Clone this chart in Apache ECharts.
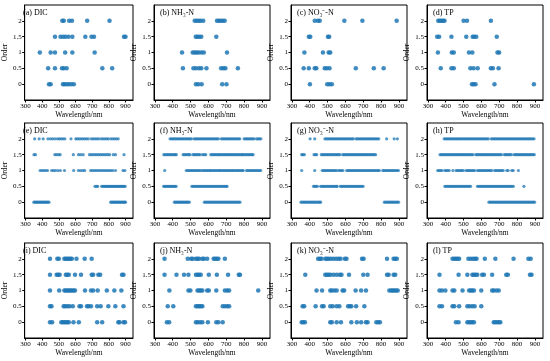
<!DOCTYPE html>
<html><head><meta charset="utf-8">
<script src="https://cdn.jsdelivr.net/npm/echarts@6/dist/echarts.min.js"></script>
<style>html,body{margin:0;padding:0;background:#fff}#c{width:550px;height:361px}</style>
</head><body><div id="c"></div>
<script>
const orders = [0, 0.5, 1, 1.5, 2];
const xTicks = [300, 400, 500, 600, 700, 800, 900];
const yTicks = [0, 0.5, 1, 1.5, 2];
const panelTitles = ['(a) DIC', '(b) NH₃-N', '(c) NO₃⁻-N', '(d) TP',
  '(e) DIC', '(f) NH₃-N', '(g) NO₃⁻-N', '(h) TP',
  '(i) DIC', '(j) NH₃-N', '(k) NO₃⁻-N', '(l) TP'];

// wavelengths (nm) selected at order 0, 0.5, 1, 1.5, 2
const dataA = [
  [441, 451, 525, 534, 547, 560, 575, 590],
  [436, 477, 519, 530, 547, 761, 820],
  [386, 451, 477, 538, 581, 715],
  [477, 510, 525, 540, 558, 581, 659, 696, 711, 891, 900],
  [521, 530, 562, 579, 670, 804]
];
const dataB = [
  [530, 543, 562, 677, 701],
  [457, 516, 530, 547, 560, 589, 671, 684, 695, 765],
  [452, 512, 523, 534, 545, 560, 574, 704],
  [529, 538, 549, 560, 644],
  [523, 534, 545, 556, 571, 648, 658, 669, 680, 691]
];
const dataC = [
  [401, 498, 511, 524],
  [366, 395, 428, 437, 484, 496, 511, 658, 759, 814],
  [370, 474, 506, 515],
  [395, 403, 502, 509],
  [428, 446, 456, 594, 695, 887]
];
const dataD = [
  [547, 556, 567, 673, 894],
  [372, 432, 445, 538, 556, 579, 653, 664, 696],
  [356, 434, 445, 530, 549, 690, 699],
  [352, 363, 432, 515, 551, 560, 571, 686],
  [358, 367, 376, 385, 393, 500, 519, 653]
];
const dataE = [
  [350, 357, 364, 371, 378, 385, 392, 399, 406, 413, 420, 427, 434, 441, 811, 818, 825, 832, 839, 846, 853, 860, 867, 874, 881, 888, 895, 900],
  [717, 726, 733, 757, 765, 772, 779, 786, 793, 800, 807, 814, 821, 828, 835, 842, 849, 856, 863, 870, 877, 884, 891, 898],
  [388, 399, 410, 421, 432, 457, 468, 479, 494, 509, 534, 589, 618, 631, 644, 655, 691, 702, 713, 724, 735, 746, 757, 768, 779, 790, 801, 812, 823, 840, 885, 896],
  [351, 360, 476, 487, 498, 508, 587, 618, 631, 646, 684, 695, 706, 717, 728, 739, 750, 761, 772, 783, 794, 805, 827, 840, 891],
  [355, 382, 406, 435, 450, 463, 477, 492, 503, 514, 525, 536, 573, 602, 611, 622, 633, 644, 655, 666, 677, 695, 706, 717, 728, 739, 754, 765, 776, 787, 797, 812, 823, 834, 845, 856]
];
const dataF = [
  [409, 416, 423, 430, 437, 444, 451, 458, 465, 472, 479, 486, 493, 577, 585, 593, 601, 609, 617, 625, 633, 641, 649, 657, 665, 673, 681, 689, 697, 705, 713, 721, 729, 737, 745, 753, 761, 769, 777],
  [349, 356, 363, 370, 377, 384, 391, 398, 405, 412, 419, 507, 515, 523, 531, 539, 547, 555, 563, 571, 579, 587, 595, 603, 611, 619, 627, 635, 643, 651, 659, 667, 675, 683, 691, 699, 704],
  [355, 476, 484, 492, 500, 508, 516, 524, 532, 540, 548, 556, 567, 575, 583, 591, 599, 607, 613, 622, 630, 638, 646, 654, 662, 668, 677, 685, 693, 701, 709, 717, 725, 733, 740, 749, 757, 765, 773, 781, 789, 795, 813, 821, 829, 837, 845, 853, 861, 869, 877, 885, 893],
  [350, 358, 366, 374, 382, 390, 398, 406, 414, 420, 458, 466, 474, 482, 490, 496, 513, 521, 529, 537, 545, 553, 567, 577, 585, 613, 621, 629, 637, 645, 653, 661, 668, 677, 685, 693, 701, 709, 717, 725, 733, 741, 749, 757, 765, 773, 781, 789, 795, 804, 812, 820, 828, 836, 844, 850],
  [385, 393, 401, 409, 417, 425, 433, 441, 449, 457, 465, 473, 481, 489, 497, 505, 520, 528, 536, 544, 552, 560, 568, 576, 584, 592, 600, 608, 616, 624, 632, 640, 648, 656, 672, 680, 688, 696, 704, 712, 720, 728, 736, 744, 752, 760, 768, 776, 800, 808, 816, 824, 832, 840, 848, 856, 870, 878, 886, 894]
];
const dataG = [
  [351, 359, 367, 375, 383, 391, 399, 407, 415, 423, 431, 439, 447, 455, 461, 818, 826, 834, 842, 850, 858, 866, 874, 882, 890, 898],
  [421, 428, 435, 443, 461, 469, 477, 485, 493, 501, 509, 517, 525, 533, 541, 549, 553, 571, 579, 587, 595, 603, 611, 619, 627, 635, 643, 651, 659, 667, 675, 683, 691, 699],
  [355, 428, 470, 478, 486, 494, 502, 510, 518, 526, 534, 542, 550, 562, 570, 578, 586, 607, 615, 623, 631, 639, 647, 655, 663, 671, 679, 687, 695, 703, 711, 719, 727, 735, 743, 751, 759, 767, 775, 783, 790, 809, 817, 825, 833, 841, 849, 857, 865, 873, 881, 889, 897],
  [355, 362, 370, 424, 432, 439, 465, 473, 481, 489, 497, 505, 513, 521, 529, 537, 545, 553, 561, 569, 585, 593, 601, 609, 617, 625, 633, 641, 649, 657, 665, 673, 681, 689, 697, 705, 713, 721, 729, 737, 745, 753, 761, 769],
  [402, 428, 485, 493, 501, 509, 517, 525, 533, 541, 549, 557, 565, 573, 581, 589, 597, 605, 613, 621, 629, 637, 644, 659, 667, 675, 683, 691, 699, 707, 715, 723, 731, 739, 747, 755, 763, 771, 779, 787, 831, 873, 891]
];
const dataH = [
  [642, 650, 658, 666, 674, 682, 690, 698, 706, 714, 722, 730, 738, 746, 754, 762, 770, 778, 786, 794, 802, 810, 818, 826, 834, 842, 850, 858, 866, 874, 882, 890, 898],
  [395, 403, 411, 419, 427, 435, 443, 451, 459, 467, 475, 483, 491, 499, 507, 515, 523, 531, 539, 578, 586, 594, 602, 610, 618, 626, 634, 642, 650, 658, 666, 674, 682, 690, 698, 706, 714, 722, 730, 738, 746, 754, 762, 770, 779, 838],
  [355, 363, 371, 379, 395, 403, 411, 419, 440, 458, 466, 474, 482, 490, 498, 514, 522, 530, 538, 546, 554, 562, 578, 586, 594, 602, 610, 618, 626, 634, 642, 650, 658, 674, 682, 690, 698, 706, 714, 722, 742, 750, 770, 778, 807],
  [368, 376, 384, 392, 400, 408, 416, 424, 432, 440, 448, 456, 464, 472, 480, 488, 496, 504, 512, 520, 528, 536, 544, 552, 568, 576, 584, 592, 600, 608, 616, 624, 632, 640, 648, 656, 664, 672, 680, 688, 696, 704, 712, 728, 736, 744, 752, 760, 768, 784, 792, 800, 808, 816, 824, 832, 840, 848, 856, 864, 872, 880, 888, 896],
  [391, 399, 407, 415, 423, 431, 439, 447, 455, 463, 471, 479, 487, 495, 503, 511, 519, 527, 535, 543, 551, 559, 567, 575, 583, 591, 599, 607, 615, 623, 631, 639, 655, 663, 671, 679, 687, 695, 703, 711, 719, 727, 735, 743, 751, 759, 767, 775, 783, 791, 799, 807, 815, 823, 831, 839, 847, 855, 863, 871, 879, 887, 895]
];
const dataI = [
  [447, 460, 515, 524, 533, 542, 551, 560, 588, 620, 730, 760, 857, 864, 888, 897],
  [447, 456, 529, 538, 551, 564, 584, 624, 633, 669, 678, 693, 730, 751, 797, 839, 888],
  [447, 502, 533, 542, 551, 560, 569, 578, 588, 597, 657, 693, 706, 733, 788, 833, 875],
  [447, 487, 496, 505, 542, 551, 560, 597, 633, 697, 706, 737, 748, 879, 888],
  [447, 491, 500, 533, 542, 551, 560, 569, 578, 606, 655, 697]
];
const dataJ = [
  [367, 380, 530, 539, 553, 566, 597, 644, 656, 680],
  [372, 403, 530, 539, 548, 557, 566, 680, 692, 705, 716],
  [381, 488, 499, 539, 548, 557, 566, 593, 602, 644, 692, 705, 716, 879],
  [354, 421, 463, 488, 530, 539, 548, 557, 602, 647, 710, 770, 777],
  [354, 484, 503, 512, 530, 539, 548, 566, 575, 593, 629, 638, 647, 656, 692]
];
const dataK = [
  [355, 364, 373, 515, 524, 551, 575, 633, 664, 688, 715, 724, 773, 784, 793],
  [360, 369, 433, 469, 478, 515, 529, 551, 566, 615, 624, 633, 660, 706],
  [438, 469, 515, 524, 538, 551, 584, 593, 657, 688, 715, 846, 857, 866, 875, 884, 893],
  [375, 487, 496, 505, 515, 533, 551, 569, 578, 620, 700, 724, 833, 842, 870, 879],
  [447, 457, 466, 487, 496, 505, 518, 533, 548, 562, 573, 597, 606, 693, 702, 833, 870, 879, 888]
];
const dataL = [
  [457, 472, 521, 531, 540, 549, 558, 669, 678, 688, 697, 706],
  [365, 379, 438, 448, 475, 521, 534, 549, 562, 599],
  [365, 379, 398, 438, 448, 494, 531, 540, 549, 558, 599, 660, 669, 684, 697],
  [365, 472, 521, 549, 558, 567, 577, 604, 614, 660, 739, 748, 872, 881],
  [438, 448, 457, 466, 475, 527, 540, 553, 564, 573, 619, 678, 780, 863, 876]
];

const panels = [dataA, dataB, dataC, dataD, dataE, dataF, dataG, dataH, dataI, dataJ, dataK, dataL];
const colLefts = [17, 154, 291, 427];
const rowTops = [5, 123, 243];
const boxW = 116, boxH = 95;
const FONT = 'Liberation Serif, Times New Roman, serif';

const grids = [], xAxes = [], yAxes = [], series = [], titles = [];
panels.forEach((pd, i) => {
  const r = Math.floor(i / 4), c = i % 4;
  grids.push({left: colLefts[c], top: rowTops[r], width: boxW, height: boxH,
    show: true, borderColor: '#000', borderWidth: 1, backgroundColor: 'transparent'});
  xAxes.push({gridIndex: i, type: 'value', min: 295, max: 945,
    axisLine: {show: true, onZero: false, lineStyle: {color: '#000', width: 1}},
    splitLine: {show: false},
    axisTick: {show: true, customValues: xTicks, length: 2.5, lineStyle: {color: '#000'}},
    axisLabel: {customValues: xTicks, fontSize: 7, color: '#000', fontFamily: FONT, margin: 3},
    name: 'Wavelength/nm', nameLocation: 'middle', nameGap: 11,
    nameTextStyle: {fontSize: 7.5, color: '#000', fontFamily: FONT}});
  yAxes.push({gridIndex: i, type: 'value', min: -0.5, max: 2.5,
    axisLine: {show: true, onZero: false, lineStyle: {color: '#000', width: 1}},
    splitLine: {show: false},
    axisTick: {show: true, customValues: yTicks, length: 2.5, lineStyle: {color: '#000'}},
    axisLabel: {customValues: yTicks, fontSize: 7, color: '#000', fontFamily: FONT, margin: 3},
    name: 'Order', nameLocation: 'middle', nameGap: 12, nameRotate: 90,
    nameTextStyle: {fontSize: 7.5, color: '#000', fontFamily: FONT}});
  const pts = [];
  pd.forEach((arr, k) => arr.forEach(x => pts.push([x, orders[k]])));
  const dense = r === 1;
  series.push({type: 'scatter', xAxisIndex: i, yAxisIndex: i, data: pts,
    symbolSize: dense ? 3.2 : 4.5,
    itemStyle: {color: '#1f77b4', opacity: dense ? 0.75 : 0.85}});
  titles.push({text: panelTitles[i], left: colLefts[c] + 6, top: rowTops[r] + 4,
    textStyle: {fontSize: 8, fontWeight: 'normal', color: '#000', fontFamily: FONT}, padding: 0});
});

const chart = echarts.init(document.getElementById('c'), null, {renderer: 'canvas'});
chart.setOption({animation: false, backgroundColor: '#fff', title: titles,
  grid: grids, xAxis: xAxes, yAxis: yAxes, series: series});
</script></body></html>
